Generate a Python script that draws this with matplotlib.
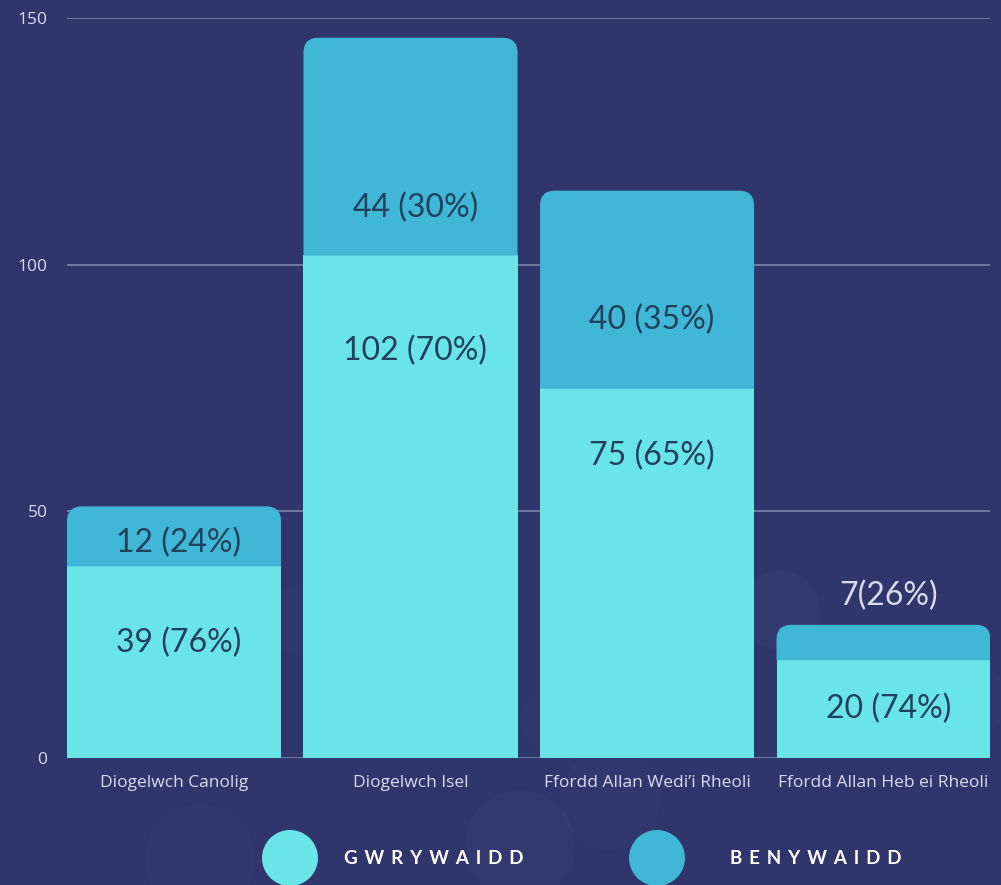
import numpy as np
import matplotlib
matplotlib.use("Agg")
import matplotlib.pyplot as plt
from matplotlib.path import Path
from matplotlib.patches import PathPatch, Ellipse

# data
categories = ["Diogelwch Canolig", "Diogelwch Isel", "Ffordd Allan Wedi\u2019i Rheoli", "Ffordd Allan Heb ei Rheoli"]
male = [39, 102, 75, 20]
female = [12, 44, 40, 7]
male_labels = ["39 (76%)", "102 (70%)", "75 (65%)", "20 (74%)"]
female_labels = ["12 (24%)", "44 (30%)", "40 (35%)", "7(26%)"]
series_names = ["GWRYWAIDD", "BENYWAIDD"]
yticks = [0, 50, 100, 150]

# label placement (value units below the top of each segment)
male_label_drop = [15.7, 19.5, 13.8, 10.1]
female_label_drop = [7.4, 34.5, 26.2, -5.8]

bg = "#30356b"
c_male = "#69e5e8"
c_female = "#40b7d6"
txt_dark = "#23415e"
txt_light = "#d8dbee"

W, H = 1001, 885
fig = plt.figure(figsize=(W / 100, H / 100), dpi=100, facecolor=bg)

# faint background bubbles
for (cx, cy, r, a) in [(200, 860, 55, 0.05), (520, 845, 55, 0.06), (610, 800, 50, 0.04),
                       (780, 610, 40, 0.06), (300, 620, 35, 0.03), (560, 720, 40, 0.03),
                       (960, 700, 45, 0.04)]:
    fig.patches.append(Ellipse((cx / W, 1 - cy / H), 2 * r / W, 2 * r / H, zorder=-5,
                               transform=fig.transFigure, color="#6a75b0", alpha=a, lw=0))

ax = fig.add_axes([67 / W, (H - 758) / H, (990 - 67) / W, (758 - 18) / H])
ax.set_facecolor("none")
ax.set_xlim(-0.4524, 3.450)
ax.set_ylim(0, 150)

x = np.arange(len(categories))
width = 0.905

ax.bar(x, male, width=width, color=c_male, lw=0, antialiased=False, zorder=3)

# top segment with rounded upper corners (starts a hair low to hide the seam)
px_x = (990 - 67) / (3.450 + 0.4524)
px_y = (758 - 18) / 150
rx, ry = 15 / px_x, 15 / px_y
for xi, b, h in zip(x, male, female):
    l, r = xi - width / 2, xi + width / 2
    t = b + h
    b0 = b - 0.15
    verts = [(l, b0), (l, t - ry), (l, t), (l + rx, t), (r - rx, t), (r, t), (r, t - ry), (r, b0), (l, b0)]
    codes = [Path.MOVETO, Path.LINETO, Path.CURVE3, Path.CURVE3, Path.LINETO,
             Path.CURVE3, Path.CURVE3, Path.LINETO, Path.CLOSEPOLY]
    ax.add_patch(PathPatch(Path(verts, codes), facecolor=c_female, lw=0, zorder=3))

lab_font = dict(family=["Lato", "DejaVu Sans"], fontweight="normal", fontsize=23, ha="center", va="center", zorder=5)
for xi, b, h, ml, fl, md, fd in zip(x, male, female, male_labels, female_labels, male_label_drop, female_label_drop):
    ax.text(xi + 0.02, b - md, ml, color=txt_dark, **lab_font)
    col = txt_dark if fd > 0 else txt_light
    ax.text(xi + 0.02, b + h - fd, fl, color=col, **lab_font)

ax.set_yticks(yticks)
ax.yaxis.grid(True, color="#7f84ad", lw=1.2, zorder=0)
ax.set_axisbelow(True)
ax.set_xticks(x)
ax.set_xticklabels(categories)
for s in ax.spines.values():
    s.set_visible(False)
ax.tick_params(length=0, colors=txt_light, labelsize=12.5)
ax.tick_params(axis="x", pad=12)
ax.tick_params(axis="y", pad=14)
for lab in ax.get_xticklabels() + ax.get_yticklabels():
    lab.set_family(["Open Sans", "DejaVu Sans"])
    lab.set_color(txt_light)

# legend
for cx, col, name, tx in [(290, c_male, series_names[0], 344), (657, c_female, series_names[1], 730)]:
    fig.patches.append(Ellipse((cx / W, 1 - 858 / H), 56 / W, 56 / H,
                               transform=fig.transFigure, color=col, lw=0))
    fig.text(tx / W, 1 - 859 / H, " \u2009".join(name),
             color="white", fontsize=13.5, fontweight="bold", family=["Lato", "DejaVu Sans"],
             ha="left", va="center")

fig.savefig("out.png", dpi=100, facecolor=bg)
